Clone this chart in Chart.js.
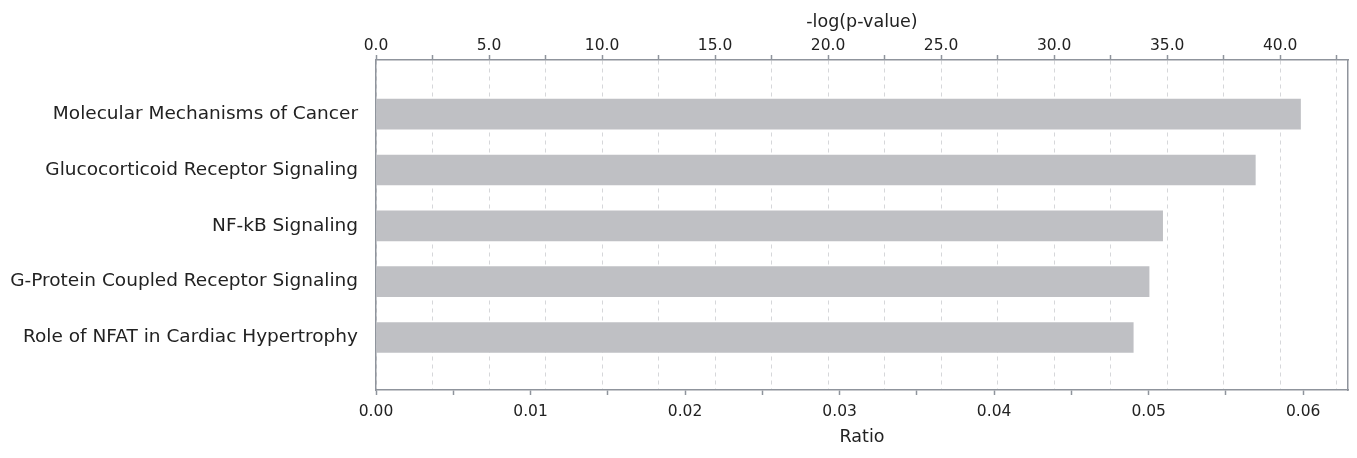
<!DOCTYPE html>
<html>
<head>
<meta charset="utf-8">
<title>Top canonical pathways</title>
<script src="https://cdn.jsdelivr.net/npm/chart.js@4.4.1/dist/chart.umd.min.js"></script>
<style>
  html, body { margin: 0; padding: 0; background: #ffffff; }
  #wrap { width: 1357px; height: 458px; }
</style>
</head>
<body>
<div id="wrap"><canvas id="chart" width="1357" height="458"></canvas></div>
<script>
// Pathways, top to bottom
const categories = [
  'Molecular Mechanisms of Cancer',
  'Glucocorticoid Receptor Signaling',
  'NF-kB Signaling',
  'G-Protein Coupled Receptor Signaling',
  'Role of NFAT in Cardiac Hypertrophy'
];

// Significance of each pathway, -log(p-value)
const negLogP = [40.9, 38.9, 34.8, 34.2, 33.5];

// Axis ranges and tick spacing
const pValueAxis = { min: 0, max: 43.0, step: 2.5, labelEvery: 5 };
const ratioAxis = { min: 0, max: 0.0629, step: 0.005, labelEvery: 0.01 };
const rowRange = { min: -0.97, max: 4.94 };

const AXIS_COLOR = '#8f949c';
const GRID_COLOR = '#d6d7da';
const TEXT_COLOR = '#222222';
const BAR_COLOR = '#bfc0c4';

Chart.defaults.font.family = '"DejaVu Sans", sans-serif';
Chart.defaults.color = TEXT_COLOR;

function isMultiple(v, m) {
  const q = v / m;
  return Math.abs(q - Math.round(q)) < 1e-6;
}

const bars = categories.map((c, i) => ({ x: negLogP[i], y: i }));

new Chart(document.getElementById('chart'), {
  type: 'bar',
  data: {
    datasets: [{
      label: '-log(p-value)',
      data: bars,
      xAxisID: 'xTop',
      yAxisID: 'y',
      backgroundColor: BAR_COLOR,
      borderWidth: 0,
      barThickness: 30
    }]
  },
  options: {
    indexAxis: 'y',
    responsive: false,
    animation: false,
    devicePixelRatio: 1,
    layout: { padding: { left: 0, right: 9, top: 0, bottom: 0 } },
    plugins: {
      legend: { display: false },
      tooltip: { enabled: false }
    },
    scales: {
      xTop: {
        type: 'linear',
        position: 'top',
        min: pValueAxis.min,
        max: pValueAxis.max,
        afterFit: (s) => { s.height = 60; },
        ticks: {
          stepSize: pValueAxis.step,
          includeBounds: false,
          autoSkip: false,
          maxRotation: 0,
          padding: 0,
          font: { size: 15.5 },
          color: TEXT_COLOR,
          callback: (v) => isMultiple(v, pValueAxis.labelEvery) ? v.toFixed(1) : ''
        },
        grid: {
          drawOnChartArea: true,
          color: GRID_COLOR,
          lineWidth: 1,
          drawTicks: true,
          tickLength: 5,
          tickColor: AXIS_COLOR,
          tickWidth: 1.5,
          tickBorderDash: []
        },
        border: { display: true, color: AXIS_COLOR, width: 1.5, dash: [4, 4] },
        title: {
          display: true,
          text: '-log(p-value)',
          font: { size: 17.5 },
          color: TEXT_COLOR,
          padding: { top: 12, bottom: 0 }
        }
      },
      x: {
        type: 'linear',
        position: 'bottom',
        min: ratioAxis.min,
        max: ratioAxis.max,
        afterFit: (s) => { s.height = 68; },
        ticks: {
          stepSize: ratioAxis.step,
          includeBounds: false,
          autoSkip: false,
          maxRotation: 0,
          padding: 8,
          font: { size: 15.5 },
          color: TEXT_COLOR,
          callback: (v) => isMultiple(v, ratioAxis.labelEvery) ? v.toFixed(2) : ''
        },
        grid: {
          drawOnChartArea: false,
          drawTicks: true,
          tickLength: 5,
          tickColor: AXIS_COLOR,
          tickWidth: 1.5
        },
        border: { display: true, color: AXIS_COLOR, width: 1.5 },
        title: {
          display: true,
          text: 'Ratio',
          font: { size: 17.5 },
          color: TEXT_COLOR,
          padding: { top: 0, bottom: 10 }
        }
      },
      y: {
        type: 'linear',
        position: 'left',
        reverse: true,
        offset: false,
        min: rowRange.min,
        max: rowRange.max,
        afterFit: (s) => { s.width = 376; },
        afterBuildTicks: (s) => { s.ticks = categories.map((c, i) => ({ value: i })); },
        ticks: {
          autoSkip: false,
          padding: 18,
          font: { size: 18.5 },
          color: TEXT_COLOR,
          callback: (v) => categories[v]
        },
        grid: { display: false, drawTicks: false },
        border: { display: true, color: AXIS_COLOR, width: 1.5 }
      },
      yRight: {
        type: 'linear',
        position: 'right',
        offset: false,
        min: rowRange.min,
        max: rowRange.max,
        afterFit: (s) => { s.width = 0; },
        ticks: { display: false },
        grid: { display: false, drawTicks: false },
        border: { display: true, color: AXIS_COLOR, width: 1.5 }
      }
    }
  }
});
</script>
</body>
</html>
